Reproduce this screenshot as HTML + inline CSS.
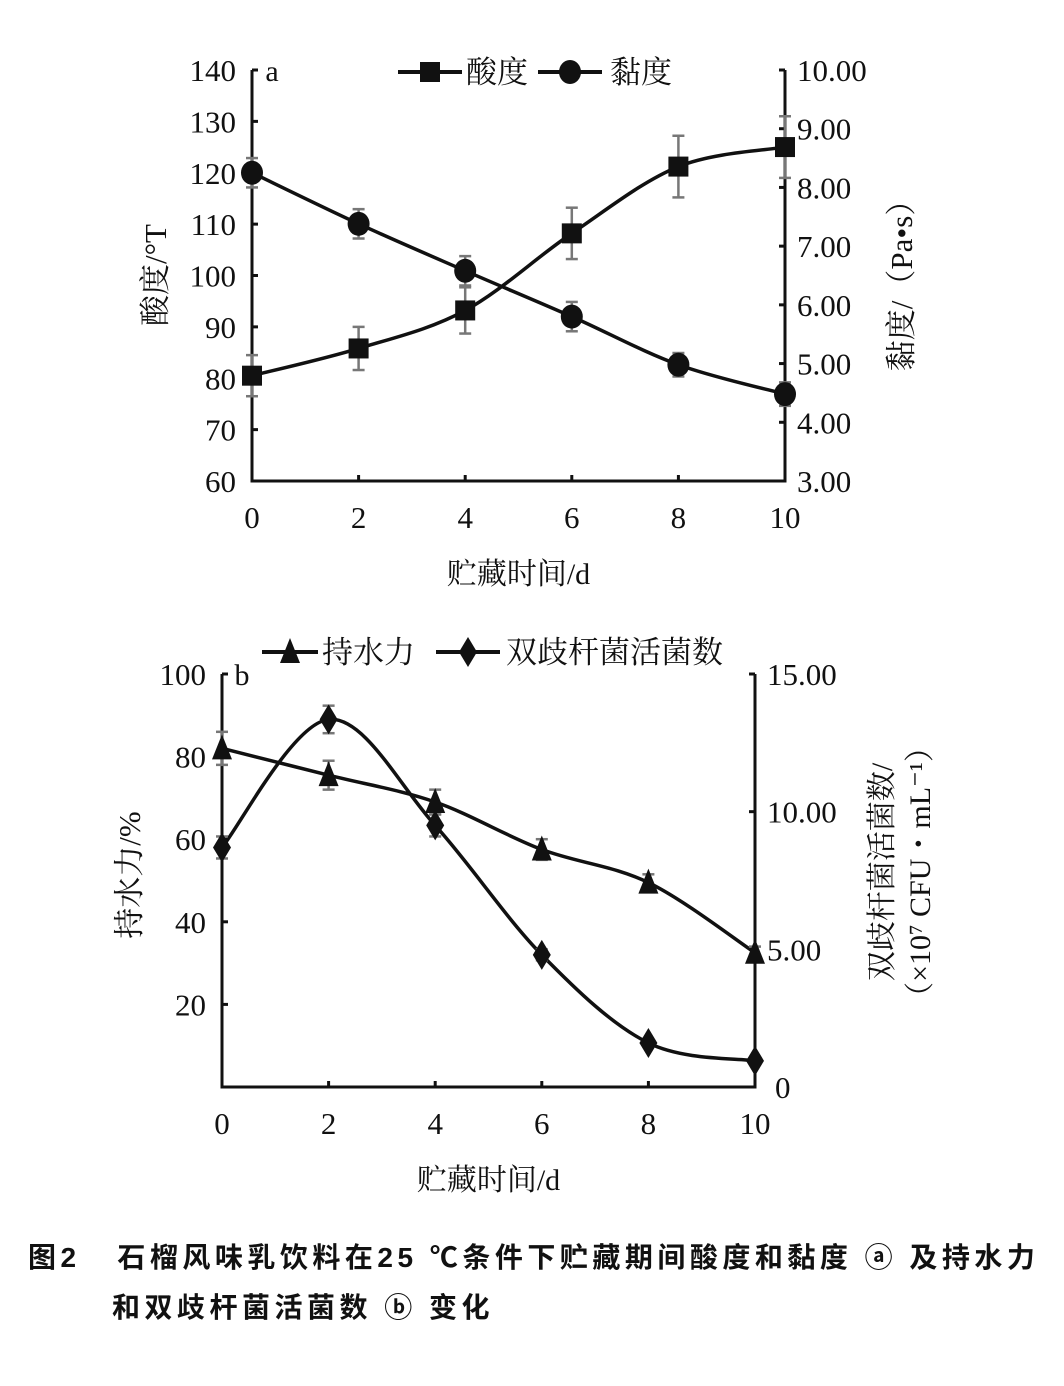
<!DOCTYPE html>
<html><head><meta charset="utf-8"><style>
body{margin:0;background:#fff;width:1064px;height:1386px;overflow:hidden}
svg text{font-family:"Liberation Serif","Noto Serif CJK SC",serif;fill:#111}
.cap{font-family:"Liberation Sans","Noto Sans CJK SC",sans-serif;font-weight:bold;font-size:28px;letter-spacing:4.5px;position:absolute;color:#111;white-space:nowrap}
</style></head><body>
<svg id="chart" width="1064" height="1386" style="position:absolute;left:0;top:0"></svg>
<div class="cap" style="left:28px;top:1236px">图2&nbsp;&nbsp;&nbsp;石榴风味乳饮料在25 ℃条件下贮藏期间酸度和黏度 ⓐ 及持水力</div>
<div class="cap" style="left:112px;top:1286px">和双歧杆菌活菌数 ⓑ 变化</div>
<script>
const days=[0,2,4,6,8,10];
const acidity=[80.5,85.8,93.2,108.2,121.2,125];
const acidityErr=[4,4.2,4.5,5,6,6];
const viscosity=[8.25,7.38,6.58,5.8,4.98,4.48];
const viscosityErr=[0.25,0.25,0.25,0.25,0.2,0.2];
const waterHold=[82,75.5,69,57.5,49.5,32.5];
const waterHoldErr=[4,3.5,3,2.5,2,1.5];
const bifido=[8.7,13.35,9.5,4.8,1.6,0.95];
const bifidoErr=[0.4,0.5,0.4,0.2,0.1,0.1];
const aLeftTicks=[60,70,80,90,100,110,120,130,140];
const aRightTicks=["3.00","4.00","5.00","6.00","7.00","8.00","9.00","10.00"];
const bLeftTicks=[20,40,60,80,100];
const bRightTicks=["0","5.00","10.00","15.00"];
const xTicks=[0,2,4,6,8,10];

const svg=document.getElementById('chart');
const NS='http://www.w3.org/2000/svg';
function mk(tag,attrs,parent){const e=document.createElementNS(NS,tag);for(const k in attrs)e.setAttribute(k,attrs[k]);(parent||svg).appendChild(e);return e;}
function txt(s,x,y,size,anchor,parent,extra){const t=mk('text',Object.assign({x:x,y:y,'font-size':size,'text-anchor':anchor||'middle'},extra||{}),parent);t.textContent=s;return t;}
function smooth(pts){let d='M'+pts[0][0]+','+pts[0][1];for(let i=0;i<pts.length-1;i++){const p0=pts[i-1]||pts[i],p1=pts[i],p2=pts[i+1],p3=pts[i+2]||p2;const c1=[p1[0]+(p2[0]-p0[0])/6,p1[1]+(p2[1]-p0[1])/6],c2=[p2[0]-(p3[0]-p1[0])/6,p2[1]-(p3[1]-p1[1])/6];d+=' C'+c1+' '+c2+' '+p2;}return d;}
function marker(type,x,y,g){
  if(type==='sq')return mk('rect',{x:x-10,y:y-10,width:20,height:20,fill:'#111'},g);
  if(type==='ci')return mk('ellipse',{cx:x,cy:y,rx:11,ry:12,fill:'#111'},g);
  if(type==='tr')return mk('polygon',{points:`${x},${y-14} ${x-10},${y+11} ${x+10},${y+11}`,fill:'#111'},g);
  return mk('polygon',{points:`${x},${y-15} ${x-9},${y} ${x},${y+15} ${x+9},${y}`,fill:'#111'},g);
}
function series(name,xs,vals,errs,ys,type,g){
  const sg=mk('g',{},g);
  
  
  const pts=vals.map((v,i)=>[xs(days[i]),ys(v)]);
  mk('path',{d:smooth(pts),fill:'none',stroke:'#111','stroke-width':3.5},sg);
  vals.forEach((v,i)=>{const x=xs(days[i]),y1=ys(v+errs[i]),y2=ys(v-errs[i]);
    const eb=mk('g',{stroke:'#777','stroke-width':2.5},sg);
    
    
    mk('line',{x1:x,y1:y1,x2:x,y2:y2},eb);mk('line',{x1:x-6,y1:y1,x2:x+6,y2:y1},eb);mk('line',{x1:x-6,y1:y2,x2:x+6,y2:y2},eb);
    const m=marker(type,x,ys(v),sg);
    
    
  });
}
function panel(o){
  const g=mk('g',{});
  
  
  const xs=d=>o.x0+(o.x1-o.x0)*d/10;
  const yl=v=>o.yb+(o.yt-o.yb)*(v-o.lmin)/(o.lmax-o.lmin);
  const yr=v=>o.yb+(o.yt-o.yb)*(v-o.rmin)/(o.rmax-o.rmin);
  const ax=mk('g',{stroke:'#111','stroke-width':3,fill:'none'},g);
  
  
  mk('path',{d:`M${o.x0},${o.yt} V${o.yb} H${o.x1} V${o.yt}`},ax);
  o.lt.forEach(v=>{const y=yl(v);mk('line',{x1:o.x0,y1:y,x2:o.x0+6,y2:y},ax);txt(String(v),o.x0-16,y+11,31,'end',g);});
  o.rt.forEach(s=>{const y=yr(parseFloat(s));mk('line',{x1:o.x1,y1:y,x2:o.x1-6,y2:y},ax);txt(s,o.x1+(s==='0'?20:12),y+11,31,'start',g);});
  xTicks.forEach(d=>{const x=xs(d);mk('line',{x1:x,y1:o.yb,x2:x,y2:o.yb-6},ax);txt(String(d),x,o.yb+47,31,'middle',g);});
  txt('贮藏时间/d',(o.x0+o.x1)/2,o.yb+103,30,'middle',g);
  txt(o.tag,o.x0+20,o.yt+11,30,'middle',g);
  series(o.s1name,xs,o.s1,o.s1e,yl,o.m1,g);
  series(o.s2name,xs,o.s2,o.s2e,yr,o.m2,g);
  return g;
}
const ga=panel({name:'chart-a',x0:252,x1:785,yt:70,yb:481,lmin:60,lmax:140,rmin:3,rmax:10,lt:aLeftTicks,rt:aRightTicks,tag:'a',
  s1:acidity,s1e:acidityErr,s1name:'acidity-series',m1:'sq',s2:viscosity,s2e:viscosityErr,s2name:'viscosity-series',m2:'ci'});
const gb=panel({name:'chart-b',x0:222,x1:755,yt:674,yb:1087,lmin:0,lmax:100,rmin:0,rmax:15,lt:bLeftTicks,rt:bRightTicks,tag:'b',
  s1:waterHold,s1e:waterHoldErr,s1name:'water-holding-series',m1:'tr',s2:bifido,s2e:bifidoErr,s2name:'bifido-series',m2:'di'});
let t;
t=txt('酸度/°T',0,0,31,'middle',ga,{transform:'translate(166,275) rotate(-90)'});
t=txt('黏度/（Pa•s）',0,0,31,'middle',ga,{transform:'translate(912,278) rotate(-90)'});
t=txt('持水力/%',0,0,31,'middle',gb,{transform:'translate(140,875) rotate(-90)'});
t=txt('双歧杆菌活菌数/',0,0,30,'middle',gb,{transform:'translate(892,872) rotate(-90)'});
t=txt('（×10⁷ CFU・mL⁻¹）',0,0,30,'middle',gb,{transform:'translate(930,872) rotate(-90)'});
function legend(name,x1,x2,y,type,label,tx){const lg=mk('g',{});
  
  
  mk('line',{x1:x1,y1:y,x2:x2,y2:y,stroke:'#111','stroke-width':4},lg);marker(type,(x1+x2)/2,y,lg);txt(label,tx,y+11,31,'start',lg);}
legend('legend-acidity',398,462,72,'sq','酸度',466);
legend('legend-viscosity',538,602,72,'ci','黏度',610);
legend('legend-water-holding',262,318,652,'tr','持水力',322);
legend('legend-bifido',436,500,652,'di','双歧杆菌活菌数',506);
</script>
</body></html>
